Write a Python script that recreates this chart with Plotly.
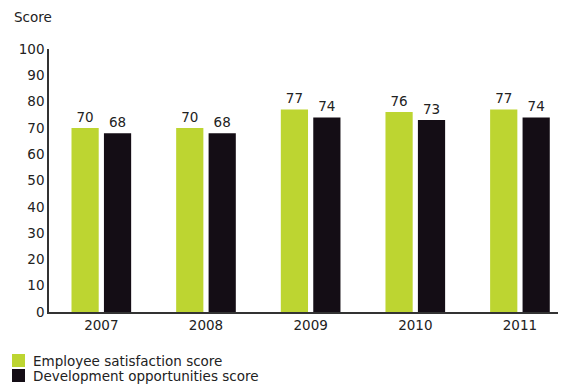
import plotly.graph_objects as go

years = ["2007", "2008", "2009", "2010", "2011"]
employee_satisfaction = [70, 70, 77, 76, 77]
development_opportunities = [68, 68, 74, 73, 74]
y_ticks = [0, 10, 20, 30, 40, 50, 60, 70, 80, 90, 100]
series_names = ["Employee satisfaction score", "Development opportunities score"]

FONT = "DejaVu Sans"
FS = 13.5
GREEN = "#BDD531"
DARK = "#140D15"
TXT = "#222222"

# the page body adds an 8px margin, so the figure is drawn 8px smaller
OFF = 8
W, H = 566 - OFF, 387 - OFF
L, R, T, B = 49 - OFF, 0, 49 - OFF, 75
PW, PH = W - L - R, H - T - B


def px(x):
    return (x - OFF - L) / PW


def py(y):
    return (H - B - (y - OFF)) / PH


fig = go.Figure()
fig.add_trace(go.Bar(
    x=years, y=employee_satisfaction, name=series_names[0],
    marker=dict(color=GREEN, line=dict(width=0)),
    width=0.26, offset=-0.285,
    text=employee_satisfaction, textposition="outside",
    textfont=dict(family=FONT, size=FS, color=TXT), cliponaxis=False,
))
fig.add_trace(go.Bar(
    x=years, y=development_opportunities, name=series_names[1],
    marker=dict(color=DARK, line=dict(width=0)),
    width=0.26, offset=0.025,
    text=development_opportunities, textposition="outside",
    textfont=dict(family=FONT, size=FS, color=TXT), cliponaxis=False,
))

shapes = []
annotations = [dict(
    text="Score", xref="paper", yref="paper", x=px(12), y=py(17),
    xanchor="left", yanchor="middle", showarrow=False,
    font=dict(family=FONT, size=FS, color=TXT),
)]
for i, (name, col) in enumerate(zip(series_names, [GREEN, DARK])):
    top = 354 + i * 15
    shapes.append(dict(type="rect", xref="paper", yref="paper",
                       x0=px(12), x1=px(25), y0=py(top + 13), y1=py(top),
                       fillcolor=col, line=dict(width=0)))
    annotations.append(dict(text=name, xref="paper", yref="paper",
                            x=px(31), y=py(top + 6.5), xanchor="left", yanchor="middle",
                            showarrow=False, font=dict(family=FONT, size=FS, color=TXT)))

fig.update_layout(
    width=W, height=H,
    margin=dict(l=L, r=R, t=T, b=B),
    paper_bgcolor="white", plot_bgcolor="white",
    font=dict(family=FONT, size=FS, color=TXT),
    barmode="overlay",
    showlegend=False,
    xaxis=dict(
        type="category", range=[-0.5, 4.44],
        showline=True, linecolor="#333333", linewidth=1.5,
        showgrid=False, ticks="", ticklen=0,
        tickfont=dict(family=FONT, size=FS, color=TXT),
    ),
    yaxis=dict(
        range=[0, 100], tickvals=y_ticks,
        showline=True, linecolor="#333333", linewidth=1.5,
        showgrid=False, zeroline=False, ticks="", ticklen=0,
        tickfont=dict(family=FONT, size=FS, color=TXT),
    ),
    shapes=shapes,
    annotations=annotations,
)

fig.write_html("out.html")
